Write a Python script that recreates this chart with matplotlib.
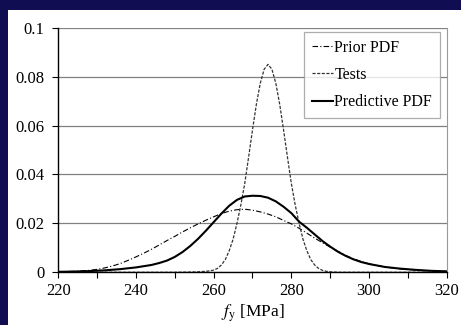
import matplotlib.pyplot as plt

## Values
fy_prior = [220, 224, 228, 230, 232, 234, 236, 238, 240, 242, 244, 246, 248, 250,
            252, 254, 256, 258, 260, 262, 264, 266, 268, 270, 272, 274, 276, 278,
            280, 282, 284, 286, 288, 290, 292, 294, 296, 298, 300, 304, 308, 312,
            316, 320]
pdf_prior = [0.0002, 0.0004, 0.0008, 0.0012, 0.0018, 0.0026, 0.0036, 0.0049, 0.0063,
             0.0078, 0.0094, 0.0112, 0.0130, 0.0147, 0.0165, 0.0182, 0.0198, 0.0213,
             0.0227, 0.0240, 0.0250, 0.0256, 0.0258, 0.0254, 0.0247, 0.0238, 0.0227,
             0.0212, 0.0198, 0.0180, 0.0160, 0.0140, 0.0121, 0.0103, 0.0086, 0.0069,
             0.0055, 0.0044, 0.0035, 0.0022, 0.0014, 0.0009, 0.0005, 0.0003]

fy_tests = [220, 250, 254, 256, 258, 259, 260, 261, 262, 263, 264, 265, 266, 267,
            268, 269, 270, 271, 272, 273, 274, 275, 276, 277, 278, 279, 280, 281,
            282, 283, 284, 285, 286, 287, 288, 289, 290, 292, 320]
pdf_tests = [0.0, 0.0, 0.0001, 0.0002, 0.0004, 0.0006, 0.0009, 0.0016, 0.0030, 0.0052,
             0.0088, 0.0135, 0.0200, 0.0275, 0.0363, 0.0471, 0.0582, 0.0687, 0.0773,
             0.0830, 0.0850, 0.0830, 0.0773, 0.0687, 0.0582, 0.0471, 0.0363, 0.0275,
             0.0200, 0.0135, 0.0088, 0.0052, 0.0030, 0.0016, 0.0008, 0.0004, 0.0002,
             0.0, 0.0]

fy_pred = [220, 224, 228, 232, 236, 240, 244, 246, 248, 250, 252, 254, 256, 258,
           260, 262, 264, 266, 268, 270, 272, 274, 276, 278, 280, 282, 284, 286,
           288, 290, 292, 294, 296, 298, 300, 304, 308, 312, 316, 320]
pdf_pred = [0.0002, 0.0003, 0.0005, 0.0008, 0.0013, 0.0020, 0.0030, 0.0038, 0.0048,
            0.0063, 0.0083, 0.0108, 0.0137, 0.0170, 0.0205, 0.0240, 0.0272, 0.0296,
            0.0310, 0.0313, 0.0312, 0.0305, 0.0290, 0.0268, 0.0242, 0.0207, 0.0182,
            0.0155, 0.0128, 0.0105, 0.0084, 0.0067, 0.0053, 0.0042, 0.0034, 0.0022,
            0.0015, 0.0010, 0.0006, 0.0004]

xticks = [220, 240, 260, 280, 300, 320]
yticks = [0, 0.02, 0.04, 0.06, 0.08, 0.1]
ytick_labels = ['0', '0.02', '0.04', '0.06', '0.08', '0.1']

plt.rcParams['font.family'] = ['Liberation Serif', 'DejaVu Serif']
plt.rcParams['mathtext.fontset'] = 'stix'

fig = plt.figure(figsize=(4.61, 3.25), dpi=100)
fig.patch.set_facecolor('#110d52')

# white panel, dark strip left and top
bg = fig.add_axes([8/461, 0, 1 - 8/461, 1 - 10/325], zorder=-1)
bg.set_facecolor('white')
bg.set_xticks([])
bg.set_yticks([])
for s in bg.spines.values():
    s.set_visible(False)

ax = fig.add_axes([58.3/461, 1 - 272.3/325, (446.7 - 58.3)/461, (272.3 - 27.7)/325])
ax.set_facecolor('white')

ax.plot(fy_prior, pdf_prior, color='black', lw=0.8, ls=(0, (5, 2, 1, 2)), label='Prior PDF')
ax.plot(fy_tests, pdf_tests, color='#333333', lw=0.9, ls=(0, (2.5, 1.2)), label='Tests')
ax.plot(fy_pred, pdf_pred, color='black', lw=1.5, label='Predictive PDF')

ax.set_xlim(220, 320)
ax.set_ylim(0, 0.1)
ax.set_xticks(xticks)
ax.set_xticks(range(220, 321, 10), minor=True)
ax.set_yticks(yticks)
ax.set_yticklabels(ytick_labels)
ax.tick_params(axis='both', labelsize=12, direction='out', length=4, width=0.8, color='black')
ax.tick_params(axis='x', which='minor', length=4, width=0.8)
ax.tick_params(axis='y', pad=6)
ax.tick_params(axis='x', pad=4)

ax.grid(axis='y', color='#808080', lw=0.9)
ax.set_axisbelow(True)
ax.spines['top'].set_visible(False)
ax.spines['right'].set_color('#999999')
ax.spines['right'].set_linewidth(0.8)
ax.spines['left'].set_linewidth(1.0)
ax.spines['bottom'].set_linewidth(1.0)

ax.set_xlabel('$f_\\mathrm{y}$ [MPa]', fontsize=12.5, labelpad=2)

leg = ax.legend(loc='upper right', bbox_to_anchor=(0.983, 0.983), fontsize=11.5, frameon=True,
                fancybox=False, edgecolor='#999999', handlelength=1.3, handletextpad=0.1,
                labelspacing=0.7, borderpad=0.5, borderaxespad=0)
leg.get_frame().set_linewidth(0.9)

plt.savefig('out.png', dpi=100, facecolor=fig.get_facecolor())
